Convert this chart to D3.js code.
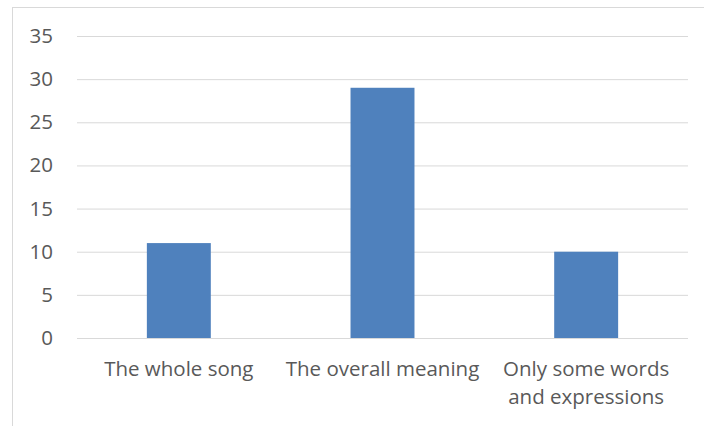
<!DOCTYPE html>
<html>
<head>
<meta charset="utf-8">
<script src="https://cdn.jsdelivr.net/npm/d3@7"></script>
<style>
  html, body { margin: 0; padding: 0; background: #fff; }
  svg { display: block; }
  text { font-family: "Open Sans", "Liberation Sans", sans-serif; fill: #595959; }
</style>
</head>
<body>
<svg id="chart" width="704" height="426"></svg>
<script>
// Answers per category
const categories = ["The whole song", "The overall meaning", "Only some words and expressions"];
const values = [11, 29, 10];
const yTicks = [0, 5, 10, 15, 20, 25, 30, 35];
// Multi-line category labels
const categoryLines = [["The whole song"], ["The overall meaning"], ["Only some words", "and expressions"]];

const svg = d3.select("#chart");
const W = 704, H = 426;
const margin = { left: 77, right: 16, top: 36, bottom: 88 };
const fontSize = 20.5;

// chart frame
svg.append("rect")
  .attr("x", 12.5).attr("y", 7.5)
  .attr("width", W).attr("height", H)
  .attr("fill", "#fff").attr("stroke", "#d9d9d9").attr("stroke-width", 1);

const x = d3.scaleBand()
  .domain(categories)
  .range([margin.left, W - margin.right])
  .paddingInner(0.686)
  .paddingOuter(0.343);

const y = d3.scaleLinear()
  .domain([0, 35])
  .range([H - margin.bottom, margin.top]);

// gridlines
const yAxis = d3.axisLeft(y).tickValues(yTicks).tickSize(-(W - margin.right - margin.left)).tickPadding(24);
const gy = svg.append("g")
  .attr("transform", `translate(${margin.left},0)`)
  .call(yAxis);
gy.select(".domain").remove();
gy.selectAll(".tick line").attr("stroke", "#d9d9d9").attr("stroke-width", 1);
gy.selectAll(".tick text")
  .attr("font-size", fontSize)
  .attr("fill", "#595959")
  .style("font-family", '"Open Sans", "Liberation Sans", sans-serif');

// bars
svg.append("g").selectAll("rect")
  .data(values)
  .join("rect")
  .attr("x", (d, i) => x(categories[i]))
  .attr("y", d => y(d))
  .attr("width", x.bandwidth())
  .attr("height", d => y(0) - y(d))
  .attr("fill", "#4f81bd");

// baseline
svg.append("line")
  .attr("x1", margin.left).attr("x2", W - margin.right)
  .attr("y1", y(0) + 0.5).attr("y2", y(0) + 0.5)
  .attr("stroke", "#d9d9d9");

// category labels
const xl = svg.append("g");
categories.forEach((c, i) => {
  const cx = x(c) + x.bandwidth() / 2;
  const t = xl.append("text")
    .attr("text-anchor", "middle")
    .attr("font-size", fontSize)
    .attr("x", cx)
    .attr("y", y(0) + 38);
  categoryLines[i].forEach((line, j) => {
    t.append("tspan").attr("x", cx).attr("dy", j === 0 ? 0 : 28).text(line);
  });
});
</script>
</body>
</html>
